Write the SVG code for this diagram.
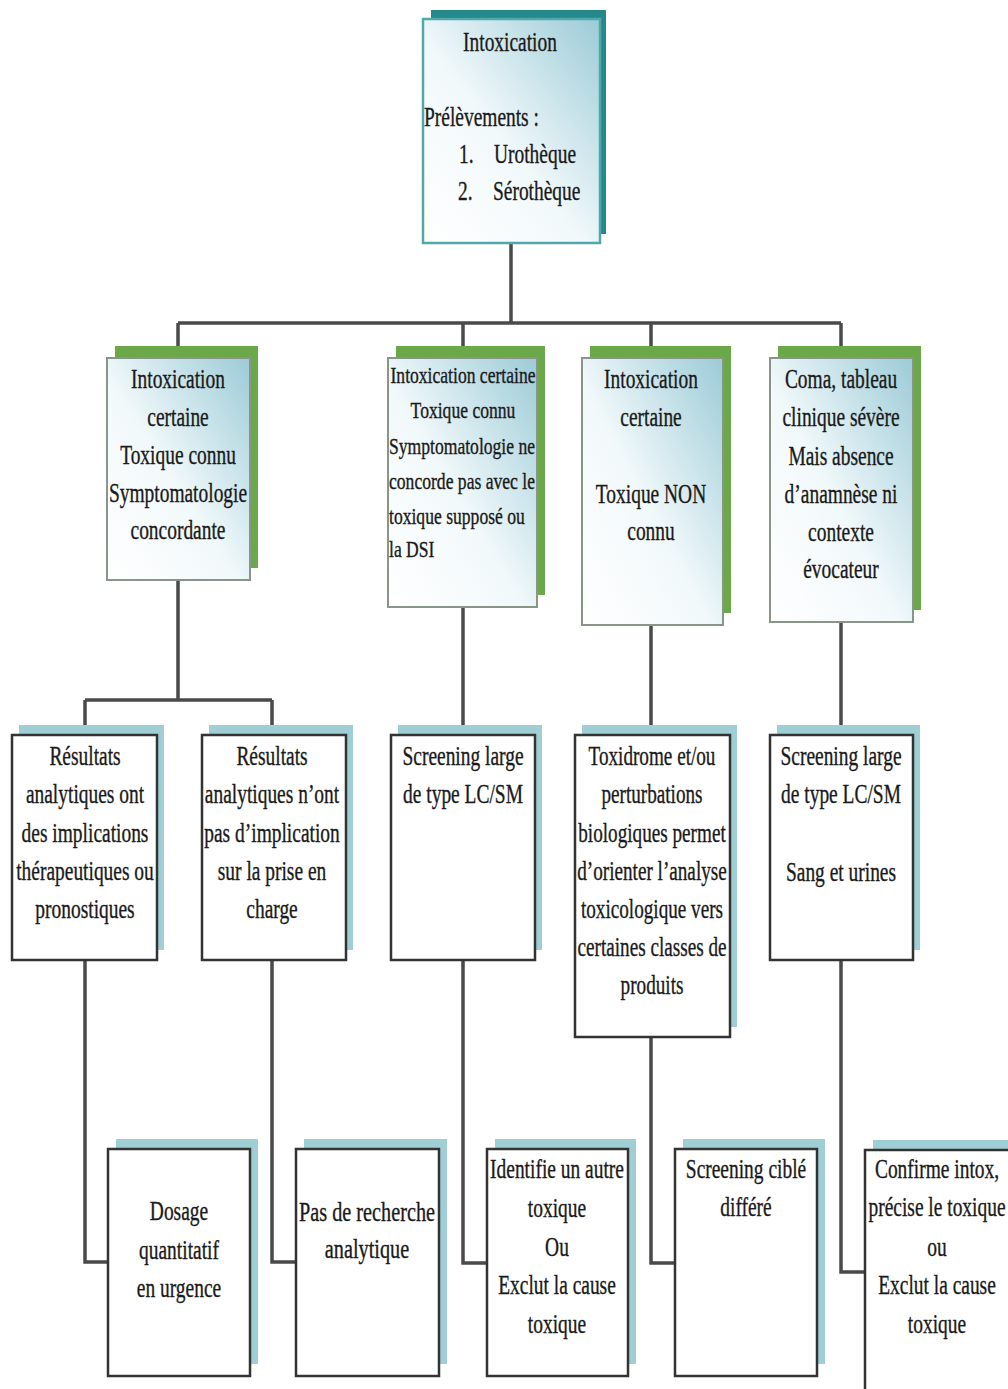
<svg xmlns="http://www.w3.org/2000/svg" width="1008" height="1389" viewBox="0 0 1008 1389">
<style>
.t{font-family:"Liberation Serif","Times New Roman",serif;font-size:27px;fill:#1a1a1a;stroke:#1a1a1a;stroke-width:0.35;text-anchor:middle}
.s{text-anchor:start}
.sm{font-size:23px}
.conn{fill:none;stroke:#4a4a4a;stroke-width:3.5}
.topbox{fill:url(#g1);stroke:#4fa9ab;stroke-width:2.5}
.topsh{fill:#23898b}
.l2box{fill:url(#g1);stroke:#8a958a;stroke-width:2}
.l2sh{fill:#6aa84a}
.wbox{fill:#ffffff;stroke:#333333;stroke-width:2.5}
.wsh{fill:#9fcfd4}
</style>
<defs>
<linearGradient id="g1" x1="0" y1="1" x2="1" y2="0">
<stop offset="0" stop-color="#ffffff"/>
<stop offset="0.45" stop-color="#f2f9fb"/>
<stop offset="1" stop-color="#9ccbd7"/>
</linearGradient>
</defs>
<rect width="1008" height="1389" fill="#ffffff"/>

<g id="connectors">
<path class="conn" d="M511 242 V323 M178 323 H841 M178 323 V358 M463 323 V358 M651 323 V358 M841 323 V358"/>
<path class="conn" d="M178 580 V700 M85 700 H272 M85 700 V735 M272 700 V735 M463 607 V735 M651 625 V735 M841 622 V735"/>
<path class="conn" d="M85 960 V1262 H108 M272 960 V1262 H296 M463 960 V1263 H487 M651 1037 V1263 H675 M841 960 V1272 H865"/>
</g>

<g id="n_top">
<rect class="topsh" x="431" y="10" width="175" height="224"/>
<rect class="topbox" x="423" y="19" width="177" height="224"/>
<text class="t" transform="translate(510,51) scale(0.72,1)">Intoxication</text>
<text class="t s" transform="translate(424,126) scale(0.72,1)">Prélèvements :</text>
<text class="t s" transform="translate(459,163) scale(0.72,1)">1.</text>
<text class="t s" transform="translate(494,163) scale(0.72,1)">Urothèque</text>
<text class="t s" transform="translate(458,200) scale(0.72,1)">2.</text>
<text class="t s" transform="translate(493,200) scale(0.72,1)">Sérothèque</text>
</g>

<g id="n_a">
<rect class="l2sh" x="115" y="346" width="143" height="222"/>
<rect class="l2box" x="107" y="358" width="143" height="222"/>
<text class="t" transform="translate(178,388) scale(0.72,1)">Intoxication</text>
<text class="t" transform="translate(178,426) scale(0.72,1)">certaine</text>
<text class="t" transform="translate(178,464) scale(0.72,1)">Toxique connu</text>
<text class="t" transform="translate(178,502) scale(0.72,1)">Symptomatologie</text>
<text class="t" transform="translate(178,539) scale(0.72,1)">concordante</text>
</g>

<g id="n_b">
<rect class="l2sh" x="396" y="346" width="149" height="249"/>
<rect class="l2box" x="388" y="358" width="149" height="249"/>
<text class="t sm" transform="translate(463,383) scale(0.765,1)">Intoxication certaine</text>
<text class="t sm" transform="translate(463,418) scale(0.765,1)">Toxique connu</text>
<text class="t s sm" transform="translate(389,454) scale(0.765,1)">Symptomatologie ne</text>
<text class="t s sm" transform="translate(389,489) scale(0.765,1)">concorde pas avec le</text>
<text class="t s sm" transform="translate(389,524) scale(0.765,1)">toxique supposé ou</text>
<text class="t s sm" transform="translate(389,557) scale(0.765,1)">la DSI</text>
</g>

<g id="n_c">
<rect class="l2sh" x="590" y="346" width="141" height="267"/>
<rect class="l2box" x="582" y="358" width="141" height="267"/>
<text class="t" transform="translate(651,388) scale(0.72,1)">Intoxication</text>
<text class="t" transform="translate(651,426) scale(0.72,1)">certaine</text>
<text class="t" transform="translate(651,503) scale(0.72,1)">Toxique NON</text>
<text class="t" transform="translate(651,540) scale(0.72,1)">connu</text>
</g>

<g id="n_d">
<rect class="l2sh" x="778" y="346" width="143" height="264"/>
<rect class="l2box" x="770" y="358" width="143" height="264"/>
<text class="t" transform="translate(841,388) scale(0.72,1)">Coma, tableau</text>
<text class="t" transform="translate(841,426) scale(0.72,1)">clinique sévère</text>
<text class="t" transform="translate(841,465) scale(0.72,1)">Mais absence</text>
<text class="t" transform="translate(841,503) scale(0.72,1)">d’anamnèse ni</text>
<text class="t" transform="translate(841,541) scale(0.72,1)">contexte</text>
<text class="t" transform="translate(841,578) scale(0.72,1)">évocateur</text>
</g>

<g id="n_a1">
<rect class="wsh" x="19" y="725" width="145" height="225"/>
<rect class="wbox" x="12" y="735" width="145" height="225"/>
<text class="t" transform="translate(85,765) scale(0.72,1)">Résultats</text>
<text class="t" transform="translate(85,803) scale(0.72,1)">analytiques ont</text>
<text class="t" transform="translate(85,842) scale(0.72,1)">des implications</text>
<text class="t" transform="translate(85,880) scale(0.72,1)">thérapeutiques ou</text>
<text class="t" transform="translate(85,918) scale(0.72,1)">pronostiques</text>
</g>

<g id="n_a2">
<rect class="wsh" x="209" y="725" width="144" height="225"/>
<rect class="wbox" x="202" y="735" width="144" height="225"/>
<text class="t" transform="translate(272,765) scale(0.72,1)">Résultats</text>
<text class="t" transform="translate(272,803) scale(0.72,1)">analytiques n’ont</text>
<text class="t" transform="translate(272,842) scale(0.72,1)">pas d’implication</text>
<text class="t" transform="translate(272,880) scale(0.72,1)">sur la prise en</text>
<text class="t" transform="translate(272,918) scale(0.72,1)">charge</text>
</g>

<g id="n_b1">
<rect class="wsh" x="398" y="725" width="144" height="225"/>
<rect class="wbox" x="391" y="735" width="144" height="225"/>
<text class="t" transform="translate(463,765) scale(0.72,1)">Screening large</text>
<text class="t" transform="translate(463,803) scale(0.72,1)">de type LC/SM</text>
</g>

<g id="n_c1">
<rect class="wsh" x="582" y="725" width="155" height="302"/>
<rect class="wbox" x="575" y="735" width="155" height="302"/>
<text class="t" transform="translate(652,765) scale(0.71,1)">Toxidrome et/ou</text>
<text class="t" transform="translate(652,803) scale(0.71,1)">perturbations</text>
<text class="t" transform="translate(652,842) scale(0.71,1)">biologiques permet</text>
<text class="t" transform="translate(652,880) scale(0.71,1)">d’orienter l’analyse</text>
<text class="t" transform="translate(652,918) scale(0.71,1)">toxicologique vers</text>
<text class="t" transform="translate(652,956) scale(0.71,1)">certaines classes de</text>
<text class="t" transform="translate(652,994) scale(0.71,1)">produits</text>
</g>

<g id="n_d1">
<rect class="wsh" x="777" y="725" width="143" height="225"/>
<rect class="wbox" x="770" y="735" width="143" height="225"/>
<text class="t" transform="translate(841,765) scale(0.72,1)">Screening large</text>
<text class="t" transform="translate(841,803) scale(0.72,1)">de type LC/SM</text>
<text class="t" transform="translate(841,881) scale(0.72,1)">Sang et urines</text>
</g>

<g id="n_a1b">
<rect class="wsh" x="116" y="1139" width="142" height="225"/>
<rect class="wbox" x="108" y="1149" width="142" height="227"/>
<text class="t" transform="translate(179,1220) scale(0.72,1)">Dosage</text>
<text class="t" transform="translate(179,1259) scale(0.72,1)">quantitatif</text>
<text class="t" transform="translate(179,1297) scale(0.72,1)">en urgence</text>
</g>

<g id="n_a2b">
<rect class="wsh" x="304" y="1139" width="143" height="225"/>
<rect class="wbox" x="296" y="1149" width="143" height="227"/>
<text class="t" transform="translate(367,1221) scale(0.75,1)">Pas de recherche</text>
<text class="t" transform="translate(367,1258) scale(0.75,1)">analytique</text>
</g>

<g id="n_b1b">
<rect class="wsh" x="495" y="1139" width="141" height="225"/>
<rect class="wbox" x="487" y="1149" width="141" height="227"/>
<text class="t" transform="translate(557,1178) scale(0.72,1)">Identifie un autre</text>
<text class="t" transform="translate(557,1217) scale(0.72,1)">toxique</text>
<text class="t" transform="translate(557,1256) scale(0.72,1)">Ou</text>
<text class="t" transform="translate(557,1294) scale(0.72,1)">Exclut la cause</text>
<text class="t" transform="translate(557,1333) scale(0.72,1)">toxique</text>
</g>

<g id="n_c1b">
<rect class="wsh" x="683" y="1139" width="142" height="225"/>
<rect class="wbox" x="675" y="1149" width="142" height="227"/>
<text class="t" transform="translate(746,1178) scale(0.72,1)">Screening ciblé</text>
<text class="t" transform="translate(746,1216) scale(0.72,1)">différé</text>
</g>

<g id="n_d1b">
<rect class="wsh" x="873" y="1140" width="160" height="260"/>
<rect class="wbox" x="865" y="1150" width="160" height="260"/>
<text class="t" transform="translate(937,1178) scale(0.72,1)">Confirme intox,</text>
<text class="t" transform="translate(937,1216) scale(0.72,1)">précise le toxique</text>
<text class="t" transform="translate(937,1256) scale(0.72,1)">ou</text>
<text class="t" transform="translate(937,1294) scale(0.72,1)">Exclut la cause</text>
<text class="t" transform="translate(937,1333) scale(0.72,1)">toxique</text>
</g>
</svg>
